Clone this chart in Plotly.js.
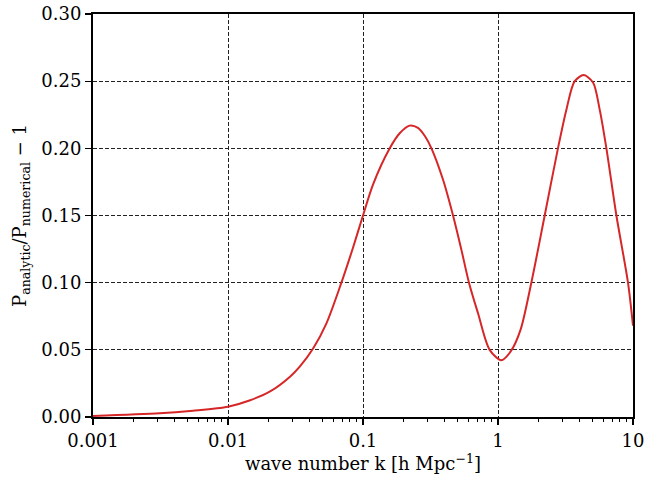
<!DOCTYPE html>
<html>
<head>
<meta charset="utf-8">
<script src="https://cdn.plot.ly/plotly-3.0.1.min.js"></script>
<style>html,body{margin:0;padding:0;background:#fff;}#chart{width:659px;height:479px;}</style>
</head>
<body>
<div id="chart"></div>
<script>
// wave number k [h/Mpc]
const waveNumbers = [0.001, 0.00312, 0.0055, 0.01, 0.0146, 0.0205, 0.0288, 0.034, 0.0427, 0.0536, 0.0692, 0.0843, 0.1, 0.1186, 0.1578, 0.187, 0.2218, 0.2553, 0.288, 0.3214, 0.3917, 0.4645, 0.5358, 0.6095, 0.7112, 0.867, 1.059, 1.245, 1.47, 1.766, 2.218, 2.78, 3.214, 3.698, 4.315, 5.058, 5.662, 6.353, 7.534, 9.183, 10];
// P_analytic / P_numerical - 1
const ratioMinusOne = [0.0008, 0.0027, 0.0047, 0.0077, 0.0125, 0.019, 0.030, 0.0375, 0.051, 0.0697, 0.10, 0.126, 0.15, 0.173, 0.20, 0.2112, 0.2169, 0.2152, 0.209, 0.20, 0.1766, 0.15, 0.1244, 0.10, 0.0772, 0.05, 0.0423, 0.049, 0.065, 0.10, 0.15, 0.20, 0.229, 0.25, 0.2545, 0.249, 0.229, 0.20, 0.15, 0.10, 0.068];
const xTickVals = [0.001, 0.01, 0.1, 1, 10];
const xTickText = ['0.001', '0.01', '0.1', '1', '10'];
const yTickVals = [0, 0.05, 0.10, 0.15, 0.20, 0.25, 0.30];
const minorTickVals = [];
for (let e = -3; e < 1; e++) { for (let m = 2; m <= 9; m++) { minorTickVals.push(m * Math.pow(10, e)); } }

const fontFam = '"DejaVu Serif", "Liberation Serif", serif';
const trace = {
  x: waveNumbers, y: ratioMinusOne, type: 'scatter', mode: 'lines',
  line: {color: '#d62728', width: 2, shape: 'spline', smoothing: 0.8},
  hoverinfo: 'skip'
};
// invisible helper trace so the minor-tick axis is drawn
const minorAxisHolder = {
  x: xTickVals, y: xTickVals.map(() => null), xaxis: 'x2', yaxis: 'y',
  type: 'scatter', mode: 'lines', line: {width: 0}, hoverinfo: 'skip', showlegend: false
};
const layout = {
  width: 659, height: 479,
  margin: {l: 93, r: 26, t: 14, b: 62, pad: 0},
  paper_bgcolor: '#fff', plot_bgcolor: '#fff',
  showlegend: false,
  font: {family: fontFam, size: 18, color: '#000'},
  xaxis: {
    type: 'log', range: [-3, 1],
    tickmode: 'array', tickvals: xTickVals, ticktext: xTickText,
    ticks: 'outside', ticklen: 6, tickwidth: 1.2, tickcolor: '#000',
    showline: true, linecolor: '#000', linewidth: 2, mirror: true,
    showgrid: true, gridcolor: '#222', gridwidth: 1, griddash: '4px,2px',
    zeroline: false,
    tickfont: {size: 18},
    title: {text: 'wave number k [h Mpc<sup>−1</sup>]', font: {size: 18}, standoff: 8}
  },
  xaxis2: {
    type: 'log', range: [-3, 1], overlaying: 'x', anchor: 'y', side: 'bottom',
    tickmode: 'array', tickvals: minorTickVals, showticklabels: false,
    ticks: 'outside', ticklen: 3.5, tickwidth: 1, tickcolor: '#000',
    showline: false, showgrid: false, zeroline: false
  },
  yaxis: {
    range: [0, 0.30],
    tickmode: 'array', tickvals: yTickVals, tickformat: '.2f',
    ticks: 'outside', ticklen: 6, tickwidth: 1.2, tickcolor: '#000',
    showline: true, linecolor: '#000', linewidth: 2, mirror: true,
    showgrid: true, gridcolor: '#222', gridwidth: 1, griddash: '4px,2px',
    zeroline: false,
    tickfont: {size: 18},
    title: {text: 'P<sub>analytic</sub>/P<sub>numerical</sub> − 1', font: {size: 18}, standoff: 10}
  }
};
Plotly.newPlot('chart', [minorAxisHolder, trace], layout, {staticPlot: true, displayModeBar: false});
</script>
</body>
</html>
